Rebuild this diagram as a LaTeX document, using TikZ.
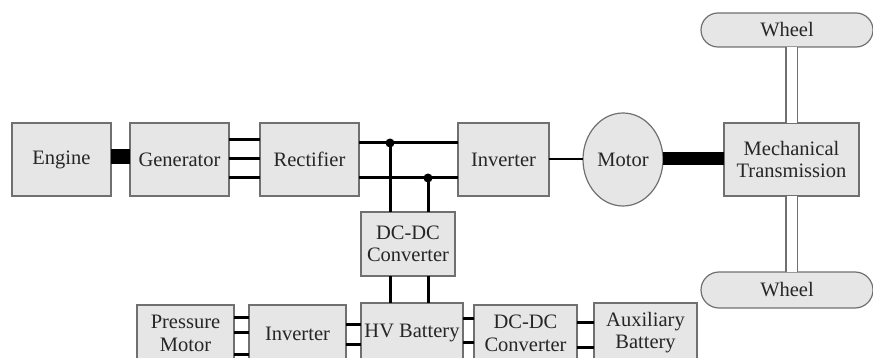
\documentclass[tikz,border=0pt]{standalone}
\usepackage{fontspec}
\setmainfont{Liberation Serif}
\usetikzlibrary{shapes.geometric,shapes.misc}
\definecolor{boxfill}{HTML}{E6E6E6}
\definecolor{boxline}{HTML}{707070}
\begin{document}
\begin{tikzpicture}[x=1pt, y=-1pt,
      box/.style={rectangle, draw=boxline, fill=boxfill, line width=1.2pt,
                  inner sep=0pt, outer sep=0pt, align=center,
                  font=\fontsize{20.5}{22.5}\selectfont, text=black!85},
      wheel/.style={box, rounded rectangle, minimum width=172pt},
      wire/.style={line width=3pt},
      coupling/.style={line width=15pt},
      axle/.style={draw=boxline, line width=1.2pt, double=white, double distance=10pt}
    ]
    \useasboundingbox (0,0) rectangle (873,358);
    \clip (0,0) rectangle (873,358);
    % top row
    \node[box, minimum width=99pt, minimum height=73pt] (eng)  at (61.5, 159.5) {Engine};
    \node[box, minimum width=99pt, minimum height=73pt] (gen)  at (179.5,159.5) {Generator};
    \node[box, minimum width=99pt, minimum height=73pt] (rect) at (309.5,159.5) {Rectifier};
    \node[box, minimum width=91pt, minimum height=73pt] (inv)  at (503.5,159.5) {Inverter};
    \node[box, ellipse, minimum width=80pt, minimum height=93pt] (mot) at (623,159.5) {Motor};
    \node[box, minimum width=135pt, minimum height=73pt] (mech) at (791.5,159.5) {Mechanical\\Transmission};
    \node[wheel, minimum height=34pt] (whl1) at (787,30)  {Wheel};
    \node[wheel, minimum height=36pt] (whl2) at (787,290) {Wheel};
    % middle
    \node[box, minimum width=94pt, minimum height=64pt] (dcdc) at (408,244) {DC-DC\\Converter};
    % bottom row
    \node[box, minimum width=97pt,  minimum height=57pt] (pm)    at (185.5,333.5) {Pressure\\Motor};
    \node[box, minimum width=97pt,  minimum height=57pt] (inv2)  at (297.5,333.5) {Inverter};
    \node[box, minimum width=102pt, minimum height=59pt] (hvb)   at (412,332.5)   {HV Battery};
    \node[box, minimum width=103pt, minimum height=57pt] (dcdc2) at (525.5,333.5) {DC-DC\\Converter};
    \node[box, minimum width=103pt, minimum height=59pt] (aux)   at (645.5,332.5) {Auxiliary\\Battery};
    \coordinate (j1) at (390,143);
    \coordinate (j2) at (428,178);
    % mechanical links
    \draw[coupling] (eng.east |- 0,157) -- (gen.west |- 0,157);
    \draw[coupling, line width=13pt] (mot.east |- 0,158.5) -- (mech.west |- 0,158.5);
    \draw[axle] (whl1.south -| mech.north) -- (mech.north);
    \draw[axle] (mech.south) -- (whl2.north -| mech.south);
    % electrical links
    \draw[wire] (gen.east |- 0,140) -- (rect.west |- 0,140);
    \draw[wire] (gen.east |- 0,159) -- (rect.west |- 0,159);
    \draw[wire] (gen.east |- 0,178) -- (rect.west |- 0,178);
    \draw[wire] (rect.east |- j1) -- (inv.west |- j1);
    \draw[wire] (rect.east |- j2) -- (inv.west |- j2);
    \draw[wire] (j1) -- (dcdc.north -| j1);
    \draw[wire] (j2) -- (dcdc.north -| j2);
    \fill (j1) circle (4.5pt);
    \fill (j2) circle (4.5pt);
    \draw[wire] (dcdc.south -| j1) -- (hvb.north -| j1);
    \draw[wire] (dcdc.south -| j2) -- (hvb.north -| j2);
    \draw[wire, line width=2pt] (inv.east) -- (mot.west);
    \draw[wire] (pm.east |- 0,317) -- (inv2.west |- 0,317);
    \draw[wire] (pm.east |- 0,332) -- (inv2.west |- 0,332);
    \draw[wire] (pm.east |- 0,354) -- (inv2.west |- 0,354);
    \draw[wire] (inv2.east |- 0,324) -- (hvb.west |- 0,324);
    \draw[wire] (inv2.east |- 0,344) -- (hvb.west |- 0,344);
    \draw[wire] (hvb.east |- 0,318) -- (dcdc2.west |- 0,318);
    \draw[wire] (hvb.east |- 0,342) -- (dcdc2.west |- 0,342);
    \draw[wire] (dcdc2.east |- 0,322) -- (aux.west |- 0,322);
    \draw[wire] (dcdc2.east |- 0,347) -- (aux.west |- 0,347);
  \end{tikzpicture}
\end{document}
